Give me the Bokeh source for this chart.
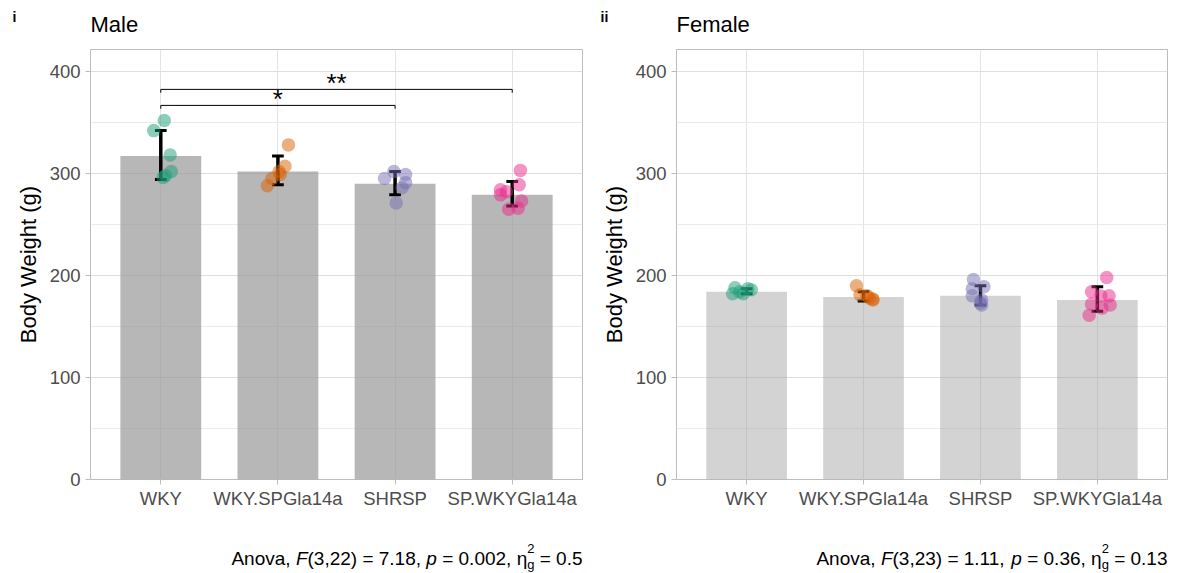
from bokeh.plotting import figure
from bokeh.layouts import row, column
from bokeh.models import Range1d, FixedTicker, Label
from bokeh.embed import file_html
from bokeh.resources import INLINE

groups = ["WKY", "WKY.SPGla14a", "SHRSP", "SP.WKYGla14a"]
colors = ["#1B9E77", "#D95F02", "#7570B3", "#E7298A"]
y_ticks = [0, 100, 200, 300, 400]
y_minor = [50, 150, 250, 350]

# Male
male_mean = [317, 302, 290, 279]
male_lo = [294, 289, 279, 268]
male_hi = [342, 317, 302, 292]
male_wky = [352, 342, 318, 302, 298, 296]
male_wkysp = [328, 307, 302, 299, 295, 288]
male_shrsp = [302, 299, 295, 291, 286, 271]
male_spwky = [303, 289, 284, 282, 279, 273, 266, 265]
male_wky_jit = [0.03, -0.06, 0.08, 0.09, 0.04, 0.02]
male_wkysp_jit = [0.09, 0.06, 0.01, 0.02, -0.05, -0.09]
male_shrsp_jit = [-0.01, 0.09, -0.09, 0.09, 0.06, 0.01]
male_spwky_jit = [0.07, 0.06, -0.10, -0.05, -0.10, 0.08, 0.05, -0.03]

# Female
female_mean = [184, 179, 180, 176]
female_lo = [182, 175, 171, 165]
female_hi = [187, 184, 190, 189]
female_wky = [188, 187, 186, 184, 182, 182]
female_wkysp = [190, 181, 180, 178, 177, 176]
female_shrsp = [196, 189, 187, 180, 176, 173, 171]
female_spwky = [198, 184, 180, 180, 172, 171, 168, 161]
female_wky_jit = [-0.10, 0.01, 0.04, -0.06, -0.12, -0.03]
female_wkysp_jit = [-0.06, -0.03, 0.03, 0.05, 0.08, 0.08]
female_shrsp_jit = [-0.06, 0.03, -0.07, -0.07, 0.01, 0.00, 0.01]
female_spwky_jit = [0.08, -0.05, 0.10, 0.03, -0.05, 0.11, 0.04, -0.07]

# significance brackets (male): from group, to group, height, label
brackets = [(1, 3, 366.7, "*"), (1, 4, 382.4, "**")]

# ANOVA captions: (text, style); a tuple text = (superscript, subscript)
cap_male = [("Anova, ", "normal"), ("F", "italic"), ("(3,22) = 7.18, ", "normal"),
            ("p", "italic"), (" = 0.002, \u03b7", "normal"), (("2", "g"), "script"),
            (" = 0.5", "normal")]
cap_female = [("Anova, ", "normal"), ("F", "italic"), ("(3,23) = 1.11, ", "normal"),
              ("p", "italic"), (" = 0.36, \u03b7", "normal"), (("2", "g"), "script"),
              (" = 0.13", "normal")]

FONT = "Liberation Sans"
Y0, Y1 = 0, 421.5
X0, X1 = 0.4, 4.6
W = 1183
H_TOP = 49      # header strip (title, tag)
H_CAP = 33      # caption strip
H_MAIN = 573 - H_TOP - H_CAP

# approximate advance widths (em) of Liberation Sans, used to lay out the caption
CW = {"A": .667, "n": .556, "o": .556, "v": .5, "a": .556, ",": .278, " ": .278,
      "F": .611, "(": .333, ")": .333, "=": .584, ".": .278, "p": .556,
      "\u03b7": .556, "g": .556}


def text_w(t, fs):
    return sum(CW.get(ch, .556) for ch in t) * fs


def blank(width, height, y_top):
    f = figure(width=width, height=height, output_backend="svg", toolbar_location=None,
               x_range=Range1d(0, width), y_range=Range1d(y_top + height, y_top),
               x_axis_location=None, y_axis_location=None, min_border=0,
               min_border_left=0, min_border_right=0, min_border_top=0, min_border_bottom=0)
    f.outline_line_color = None
    f.background_fill_color = "white"
    f.border_fill_color = "white"
    f.xgrid.visible = False
    f.ygrid.visible = False
    return f


def make_panel(width, bl, br, mean, lo, hi, pts, jits, bar_alpha):
    p = figure(width=width, height=H_MAIN, output_backend="svg", toolbar_location=None,
               x_range=Range1d(X0, X1), y_range=Range1d(Y0, Y1),
               min_border_left=bl, min_border_right=br, min_border_top=0,
               min_border_bottom=H_MAIN - 430)
    p.background_fill_color = "white"
    p.border_fill_color = "white"
    p.outline_line_color = "#BDBDBD"
    p.outline_line_width = 1

    xs = list(range(1, len(groups) + 1))
    p.vbar(x=xs, top=mean, bottom=0, width=0.69, fill_color="#999999",
           fill_alpha=bar_alpha, line_color=None)
    p.segment(x0=xs, y0=lo, x1=xs, y1=hi, line_color="black", line_width=3.5)
    p.segment(x0=[x - 0.05 for x in xs], y0=lo, x1=[x + 0.05 for x in xs], y1=lo,
              line_color="black", line_width=3)
    p.segment(x0=[x - 0.05 for x in xs], y0=hi, x1=[x + 0.05 for x in xs], y1=hi,
              line_color="black", line_width=3)
    for i, (vals, jit) in enumerate(zip(pts, jits)):
        p.scatter(x=[xs[i] + j for j in jit], y=vals, size=13.5, fill_color=colors[i],
                  fill_alpha=0.5, line_color=None)

    p.xaxis.ticker = FixedTicker(ticks=xs)
    p.xaxis.major_label_overrides = {x: g for x, g in zip(xs, groups)}
    p.yaxis.ticker = FixedTicker(ticks=y_ticks, minor_ticks=y_minor)
    p.yaxis.axis_label = "Body Weight (g)"
    for ax in (p.xaxis, p.yaxis):
        ax.axis_line_color = None
        ax.major_tick_line_color = "#BDBDBD"
        ax.major_tick_out = 5
        ax.major_tick_in = 0
        ax.minor_tick_line_color = None
        ax.major_label_text_font = FONT
        ax.major_label_text_font_size = "18.5px"
        ax.major_label_text_color = "#4D4D4D"
        ax.major_label_standoff = 5
    p.xaxis.major_label_standoff = 3
    p.yaxis.axis_label_text_font = FONT
    p.yaxis.axis_label_text_font_size = "22px"
    p.yaxis.axis_label_text_font_style = "normal"
    p.yaxis.axis_label_text_color = "black"
    p.yaxis.axis_label_standoff = 6
    p.xgrid.ticker = FixedTicker(ticks=xs)
    p.xgrid.grid_line_color = "#E3E3E3"
    p.ygrid.grid_line_color = "#DEDEDE"
    p.ygrid.minor_grid_line_color = "#EBEBEB"
    return p


def add_text(f, px, py, txt, fs, style="normal"):
    # baseline correction for Bokeh's text placement
    f.add_layout(Label(x=px, y=py - 0.37 * fs, text=txt, text_font=FONT,
                       text_font_size=f"{fs}px", text_font_style=style, text_color="black",
                       text_baseline="alphabetic", text_align="left"))


def add_caption(f, pieces, right_px, fs=19, base=565, sup=553, sub=569):
    small = round(fs * 0.7)
    total = 0
    for txt, style in pieces:
        if style == "script":
            total += max(text_w(txt[0], small), text_w(txt[1], small))
        else:
            total += text_w(txt, fs)
    x = right_px - total
    for txt, style in pieces:
        if style == "script":
            add_text(f, x, sup, txt[0], small)
            add_text(f, x, sub, txt[1], small)
            x += max(text_w(txt[0], small), text_w(txt[1], small))
        else:
            lead = len(txt) - len(txt.lstrip(" "))
            add_text(f, x + text_w(" " * lead, fs), base, txt.strip(" "), fs, style)
            x += text_w(txt, fs)


W1, W2 = 590, 593
p1 = make_panel(W1, 90, 8, male_mean, male_lo, male_hi,
                [male_wky, male_wkysp, male_shrsp, male_spwky],
                [male_wky_jit, male_wkysp_jit, male_shrsp_jit, male_spwky_jit], 0.7)
p2 = make_panel(W2, 86, 16, female_mean, female_lo, female_hi,
                [female_wky, female_wkysp, female_shrsp, female_spwky],
                [female_wky_jit, female_wkysp_jit, female_shrsp_jit, female_spwky_jit], 0.43)

for a, b, h, lab in brackets:
    p1.line(x=[a, a, b, b], y=[h - 3.3, h, h, h - 3.3], line_color="black", line_width=1)
    p1.text(x=[(a + b) / 2], y=[h + 6], text=[lab], text_font_size="26px",
            text_align="center", text_baseline="alphabetic", text_color="black")

hdr = blank(W, H_TOP, 0)
add_text(hdr, 90, 31.7, "Male", 22)
add_text(hdr, 12, 22, "i", 14, "bold")
add_text(hdr, 676, 31.7, "Female", 22)
add_text(hdr, 600, 22, "ii", 14, "bold")

cap = blank(W, H_CAP, 573 - H_CAP)
add_caption(cap, cap_male, 90 + 492)
add_caption(cap, cap_female, W1 + 86 + 491)

layout = column(hdr, row(p1, p2), cap)
open("out.html", "w").write(file_html(layout, INLINE))
